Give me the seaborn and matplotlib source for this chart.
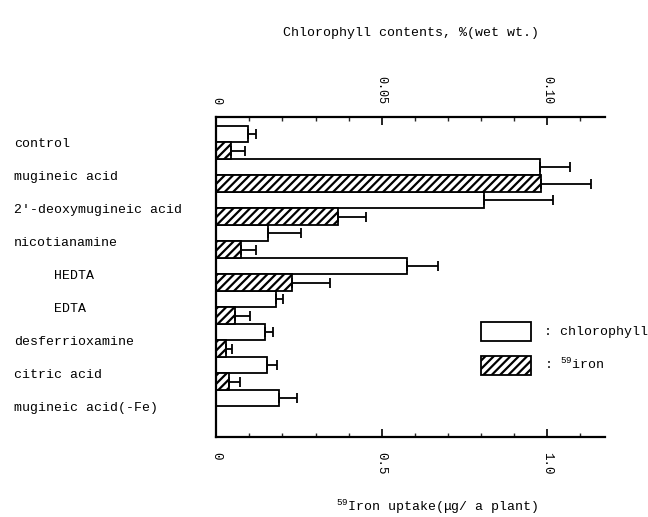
import numpy as np
import pandas as pd
import matplotlib
matplotlib.use('Agg')
import matplotlib.pyplot as plt
from matplotlib.ticker import MultipleLocator
import seaborn as sns

# data
treatments = ['control', 'mugineic acid', "2'-deoxymugineic acid", 'nicotianamine',
              '     HEDTA', '     EDTA', 'desferrioxamine', 'citric acid',
              'mugineic acid(-Fe)']
chlorophyll = [0.0095, 0.098, 0.081, 0.0157, 0.0577, 0.018, 0.0148, 0.0152, 0.019]   # % wet wt.
chlorophyll_err = [0.0026, 0.009, 0.021, 0.0100, 0.0095, 0.0023, 0.0024, 0.0030, 0.0055]
iron = [0.045, 0.982, 0.369, 0.073, 0.229, 0.057, 0.028, 0.037, 0.0]   # ug / plant
iron_err = [0.040, 0.151, 0.083, 0.048, 0.115, 0.046, 0.020, 0.034, 0.0]

CHL_SCALE = 10.0  # top axis is bottom axis / 10

sns.set_theme(style='white')
plt.rcParams['font.family'] = ['Liberation Mono', 'DejaVu Sans Mono']
plt.rcParams['mathtext.fontset'] = 'custom'
plt.rcParams['mathtext.rm'] = 'Liberation Mono'
plt.rcParams['mathtext.it'] = 'Liberation Mono'
plt.rcParams['mathtext.bf'] = 'Liberation Mono:bold'
plt.rcParams['hatch.linewidth'] = 1.6
plt.rcParams['hatch.color'] = 'black'
plt.rcParams['text.color'] = 'black'
plt.rcParams['axes.labelcolor'] = 'black'

df = pd.DataFrame({
    'treatment': treatments * 2,
    'value': [c * CHL_SCALE for c in chlorophyll] + iron,
    'err': [e * CHL_SCALE for e in chlorophyll_err] + iron_err,
    'series': ['chlorophyll'] * len(treatments) + ['iron'] * len(treatments),
})

fig = plt.figure(figsize=(6.48, 5.17), dpi=100)
ax = fig.add_axes([0.334, 0.155, 0.6, 0.619])

sns.barplot(data=df, y='treatment', x='value', hue='series', orient='h',
            palette=['white', 'white'], edgecolor='black', linewidth=1.3,
            width=1.0, errorbar=None, legend=False, ax=ax)

# hatch the iron bars, add one-sided error bars
for cont, (name, sub) in zip(ax.containers, df.groupby('series', sort=False)):
    for patch, e in zip(cont.patches, sub['err']):
        if name == 'iron':
            patch.set_hatch('////')
        if e > 0:
            yc = patch.get_y() + patch.get_height() / 2
            w = patch.get_width()
            ax.errorbar(w, yc, xerr=[[0], [e]], fmt='none', ecolor='black',
                        elinewidth=1.3, capsize=3.5, capthick=1.3)

ax.set_xlim(0, 1.177)
ax.set_ylim(8.92, -0.77)

# spines
for side in ['left', 'bottom']:
    ax.spines[side].set_linewidth(1.6)
    ax.spines[side].set_color('black')
ax.spines['right'].set_visible(False)
ax.spines['top'].set_visible(False)

# bottom axis
ax.xaxis.set_major_locator(MultipleLocator(0.5))
ax.xaxis.set_minor_locator(MultipleLocator(0.1))
ax.set_xticks([0, 0.5, 1.0], ['0', '0.5', '1.0'])
ax.tick_params(axis='x', which='major', direction='in', length=6, width=1.2,
               labelsize=9, pad=11, labelrotation=-90, bottom=True, colors='black')
ax.tick_params(axis='x', which='minor', direction='in', length=3, width=1.0, bottom=True)
ax.set_xlabel(r'$^{59}$Iron uptake(μg/ a plant)', fontsize=9.5)
ax.xaxis.set_label_coords(0.567, -0.19)

# left labels
ax.set_ylabel('')
ax.set_yticks(range(len(treatments)), treatments)
ax.tick_params(axis='y', length=0, pad=146, labelsize=9.5, colors='black')
for lbl in ax.get_yticklabels():
    lbl.set_ha('left')

# top axis for chlorophyll
sec = ax.secondary_xaxis('top', functions=(lambda x: x / CHL_SCALE, lambda x: x * CHL_SCALE))
sec.spines['top'].set_linewidth(1.6)
sec.spines['top'].set_color('black')
sec.set_xticks([0, 0.05, 0.10], ['0', '0.05', '0.10'])
sec.xaxis.set_minor_locator(MultipleLocator(0.01))
sec.tick_params(axis='x', which='major', direction='in', length=6, width=1.2,
                labelsize=8.5, pad=9, labelrotation=-90, colors='black')
sec.tick_params(axis='x', which='minor', direction='in', length=3, width=1.0)
sec.set_xlabel('Chlorophyll contents, %(wet wt.)', fontsize=9.5, labelpad=29)

# legend
handles = [ax.containers[0].patches[0], ax.containers[1].patches[1]]
ax.legend(handles, [': chlorophyll', r': $^{59}$iron'], loc='upper left',
          bbox_to_anchor=(0.742, 0.378), bbox_transform=fig.transFigure,
          frameon=False, fontsize=9.5, handlelength=3.8, handleheight=1.84,
          handletextpad=1.0, labelspacing=1.14, borderpad=0, borderaxespad=0)

plt.savefig('out.png', dpi=100)
plt.close()
